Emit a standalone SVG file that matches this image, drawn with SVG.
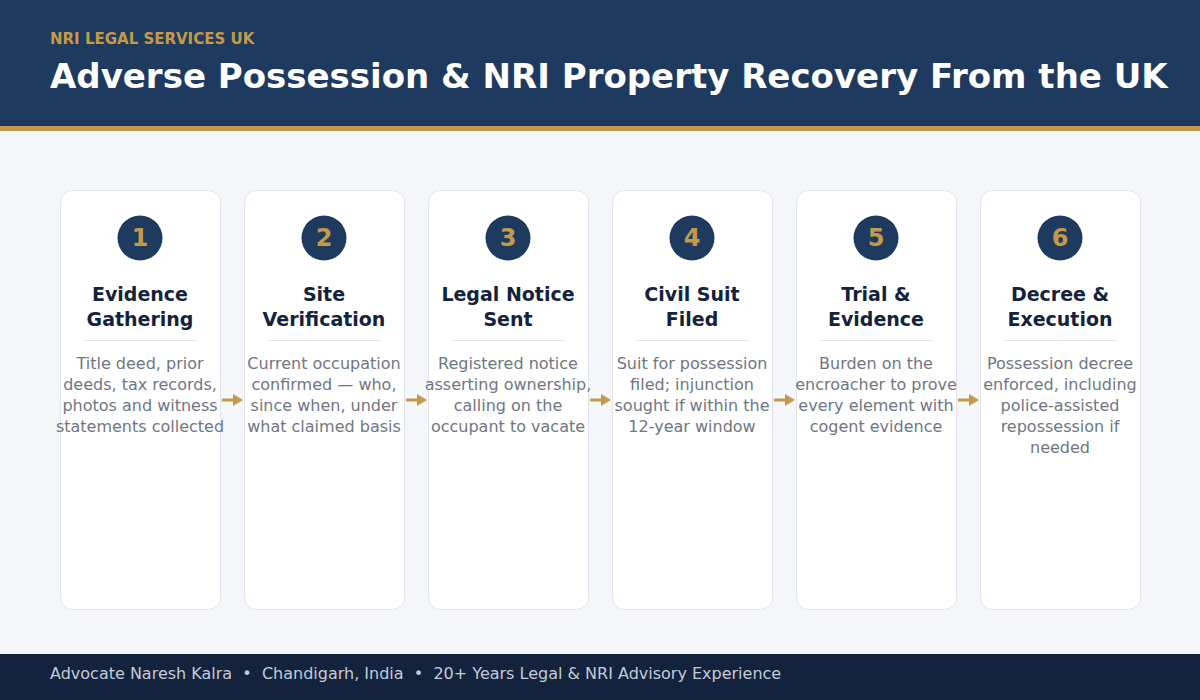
<svg xmlns="http://www.w3.org/2000/svg" width="1200" height="700" viewBox="0 0 1200 700">
<defs>
<style>
text{font-family:"DejaVu Sans",Verdana,sans-serif}
.card{fill:#ffffff;stroke:#e2e5ee;stroke-width:1}
.circ{fill:#1e3a5f}
.num{font-size:24px;font-weight:bold;fill:#c49a4a;text-anchor:middle}
.ttl{font-size:19px;font-weight:bold;fill:#14233d;text-anchor:middle}
.div{stroke:#e2e5ee;stroke-width:1}
.desc{font-size:16px;font-weight:normal;fill:#6f7683;text-anchor:middle}
.arr{stroke:#c49a4a;stroke-width:3}
</style>
<marker id="ah" viewBox="0 0 10 12" refX="1" refY="6" markerWidth="10" markerHeight="12" markerUnits="userSpaceOnUse" orient="auto"><path d="M0,0 L10,6 L0,12 Z" fill="#c49a4a"/></marker>
</defs>
<rect x="0" y="0" width="1200" height="700" fill="#f5f6fa"/>
<g id="header">
<rect x="0" y="0" width="1200" height="126" fill="#1e3a5f"/>
<rect x="0" y="126" width="1200" height="5" fill="#c49a4a"/>
<text x="50" y="44" font-size="15" font-weight="bold" fill="#c49a4a">NRI LEGAL SERVICES UK</text>
<text x="50" y="88" font-size="34" font-weight="bold" fill="#ffffff">Adverse Possession &amp; NRI Property Recovery From the UK</text>
</g>
<g id="connectors">
<line class="arr" x1="222" y1="400" x2="234" y2="400" marker-end="url(#ah)"/>
<line class="arr" x1="406" y1="400" x2="418" y2="400" marker-end="url(#ah)"/>
<line class="arr" x1="590" y1="400" x2="602" y2="400" marker-end="url(#ah)"/>
<line class="arr" x1="774" y1="400" x2="786" y2="400" marker-end="url(#ah)"/>
<line class="arr" x1="958" y1="400" x2="970" y2="400" marker-end="url(#ah)"/>
</g>
<g id="step1">
<rect class="card" x="60.5" y="190.5" width="160" height="419" rx="12"/>
<circle class="circ" cx="140" cy="238" r="22.5"/>
<text class="num" x="140" y="246">1</text>
<text class="ttl" x="140" y="301">Evidence</text>
<text class="ttl" x="140" y="326">Gathering</text>
<line class="div" x1="84" y1="340.5" x2="197" y2="340.5"/>
<text class="desc" x="140" y="369">Title deed, prior</text>
<text class="desc" x="140" y="390">deeds, tax records,</text>
<text class="desc" x="140" y="411">photos and witness</text>
<text class="desc" x="140" y="432">statements collected</text>
</g>
<g id="step2">
<rect class="card" x="244.5" y="190.5" width="160" height="419" rx="12"/>
<circle class="circ" cx="324" cy="238" r="22.5"/>
<text class="num" x="324" y="246">2</text>
<text class="ttl" x="324" y="301">Site</text>
<text class="ttl" x="324" y="326">Verification</text>
<line class="div" x1="268" y1="340.5" x2="381" y2="340.5"/>
<text class="desc" x="324" y="369">Current occupation</text>
<text class="desc" x="324" y="390">confirmed — who,</text>
<text class="desc" x="324" y="411">since when, under</text>
<text class="desc" x="324" y="432">what claimed basis</text>
</g>
<g id="step3">
<rect class="card" x="428.5" y="190.5" width="160" height="419" rx="12"/>
<circle class="circ" cx="508" cy="238" r="22.5"/>
<text class="num" x="508" y="246">3</text>
<text class="ttl" x="508" y="301">Legal Notice</text>
<text class="ttl" x="508" y="326">Sent</text>
<line class="div" x1="452" y1="340.5" x2="565" y2="340.5"/>
<text class="desc" x="508" y="369">Registered notice</text>
<text class="desc" x="508" y="390">asserting ownership,</text>
<text class="desc" x="508" y="411">calling on the</text>
<text class="desc" x="508" y="432">occupant to vacate</text>
</g>
<g id="step4">
<rect class="card" x="612.5" y="190.5" width="160" height="419" rx="12"/>
<circle class="circ" cx="692" cy="238" r="22.5"/>
<text class="num" x="692" y="246">4</text>
<text class="ttl" x="692" y="301">Civil Suit</text>
<text class="ttl" x="692" y="326">Filed</text>
<line class="div" x1="636" y1="340.5" x2="749" y2="340.5"/>
<text class="desc" x="692" y="369">Suit for possession</text>
<text class="desc" x="692" y="390">filed; injunction</text>
<text class="desc" x="692" y="411">sought if within the</text>
<text class="desc" x="692" y="432">12-year window</text>
</g>
<g id="step5">
<rect class="card" x="796.5" y="190.5" width="160" height="419" rx="12"/>
<circle class="circ" cx="876" cy="238" r="22.5"/>
<text class="num" x="876" y="246">5</text>
<text class="ttl" x="876" y="301">Trial &amp;</text>
<text class="ttl" x="876" y="326">Evidence</text>
<line class="div" x1="820" y1="340.5" x2="933" y2="340.5"/>
<text class="desc" x="876" y="369">Burden on the</text>
<text class="desc" x="876" y="390">encroacher to prove</text>
<text class="desc" x="876" y="411">every element with</text>
<text class="desc" x="876" y="432">cogent evidence</text>
</g>
<g id="step6">
<rect class="card" x="980.5" y="190.5" width="160" height="419" rx="12"/>
<circle class="circ" cx="1060" cy="238" r="22.5"/>
<text class="num" x="1060" y="246">6</text>
<text class="ttl" x="1060" y="301">Decree &amp;</text>
<text class="ttl" x="1060" y="326">Execution</text>
<line class="div" x1="1004" y1="340.5" x2="1117" y2="340.5"/>
<text class="desc" x="1060" y="369">Possession decree</text>
<text class="desc" x="1060" y="390">enforced, including</text>
<text class="desc" x="1060" y="411">police-assisted</text>
<text class="desc" x="1060" y="432">repossession if</text>
<text class="desc" x="1060" y="453">needed</text>
</g>
<g id="footer">
<rect x="0" y="654" width="1200" height="46" fill="#14233d"/>
<text x="50" y="679" font-size="16" fill="#c3cbd8" xml:space="preserve">Advocate Naresh Kalra  •  Chandigarh, India  •  20+ Years Legal &amp; NRI Advisory Experience</text>
</g>
</svg>
